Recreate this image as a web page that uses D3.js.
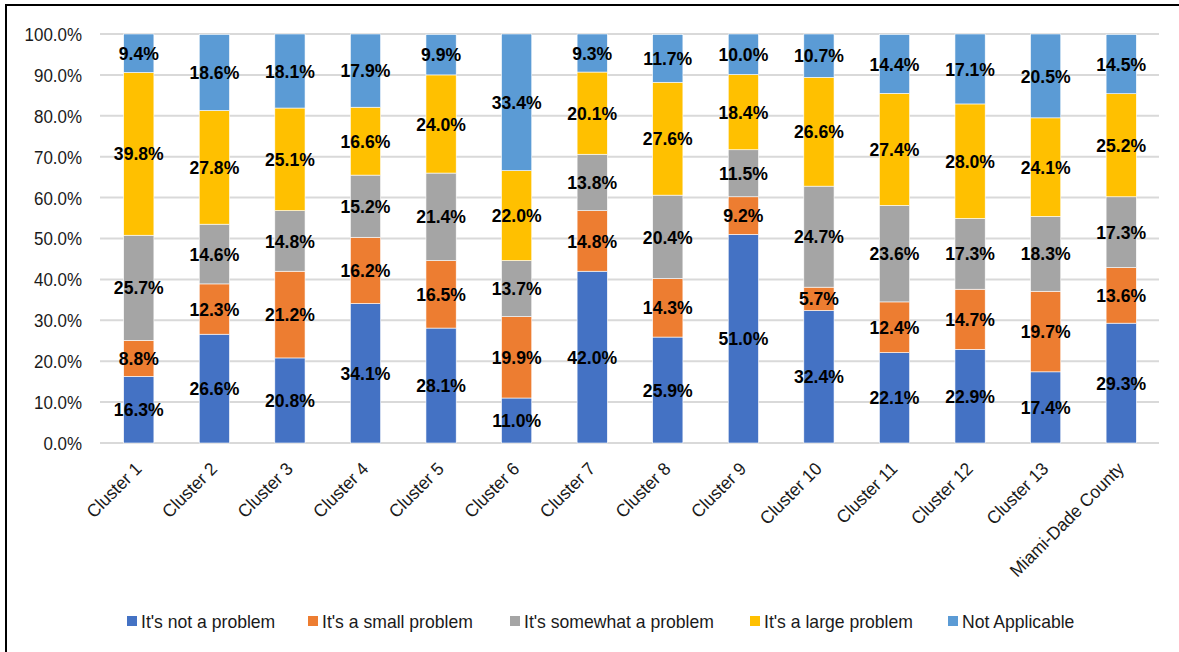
<!DOCTYPE html>
<html>
<head>
<meta charset="utf-8">
<script src="https://cdn.jsdelivr.net/npm/d3@7"></script>
<style>
  body { margin: 0; background: #fff; }
  svg { display: block; font-family: "Liberation Sans", Arial, sans-serif; }
</style>
</head>
<body>
<div id="chart"></div>
<script>
const categories = ["Cluster 1", "Cluster 2", "Cluster 3", "Cluster 4", "Cluster 5", "Cluster 6", "Cluster 7",
    "Cluster 8", "Cluster 9", "Cluster 10", "Cluster 11", "Cluster 12", "Cluster 13", "Miami-Dade County"];
const seriesNames = ["It's not a problem", "It's a small problem", "It's somewhat a problem", "It's a large problem", "Not Applicable"];
const notProblem   = [16.3, 26.6, 20.8, 34.1, 28.1, 11.0, 42.0, 25.9, 51.0, 32.4, 22.1, 22.9, 17.4, 29.3];
const smallProblem = [8.8, 12.3, 21.2, 16.2, 16.5, 19.9, 14.8, 14.3, 9.2, 5.7, 12.4, 14.7, 19.7, 13.6];
const somewhat     = [25.7, 14.6, 14.8, 15.2, 21.4, 13.7, 13.8, 20.4, 11.5, 24.7, 23.6, 17.3, 18.3, 17.3];
const largeProblem = [39.8, 27.8, 25.1, 16.6, 24.0, 22.0, 20.1, 27.6, 18.4, 26.6, 27.4, 28.0, 24.1, 25.2];
const notApplicable = [9.4, 18.6, 18.1, 17.9, 9.9, 33.4, 9.3, 11.7, 10.0, 10.7, 14.4, 17.1, 20.5, 14.5];
const yTicks = [0, 10, 20, 30, 40, 50, 60, 70, 80, 90, 100];
const colors = ["#4472C4", "#ED7D31", "#A5A5A5", "#FFC000", "#5B9BD5"];

const seriesValues = [notProblem, smallProblem, somewhat, largeProblem, notApplicable];
const rows = categories.map((c, i) => {
    const row = {category: c};
    seriesNames.forEach((s, j) => { row[s] = seriesValues[j][i]; });
    return row;
});

const W = 1179, H = 652;
const plot = {left: 101, right: 1159, top: 34, bottom: 443};

const svg = d3.select("#chart").append("svg")
    .attr("width", W)
    .attr("height", H);

// outer frame
svg.append("rect")
    .attr("x", 6).attr("y", 5)
    .attr("width", W + 20).attr("height", H + 20)
    .attr("fill", "none")
    .attr("stroke", "#000")
    .attr("stroke-width", 2);

const x = d3.scaleBand()
    .domain(categories)
    .range([plot.left, plot.right])
    .paddingInner(0.6)
    .paddingOuter(0.3);
const y = d3.scaleLinear().domain([0, 100]).range([plot.bottom, plot.top]);

// the picture's text is a touch narrower than Liberation Sans
const squeeze = (sel, k) => {
    sel.each(function() {
        const w = this.getComputedTextLength();
        this.setAttribute("textLength", w * k);
        this.setAttribute("lengthAdjust", "spacingAndGlyphs");
    });
};

// grid lines
svg.append("g")
    .selectAll("line")
    .data(yTicks)
    .join("line")
    .attr("x1", plot.left - 1)
    .attr("x2", plot.right)
    .attr("y1", d => y(d))
    .attr("y2", d => y(d))
    .attr("stroke", "#D9D9D9")
    .attr("stroke-width", 2);

// y axis labels
const yAxis = svg.append("g")
    .attr("transform", "translate(" + plot.left + ",0)")
    .call(d3.axisLeft(y).tickValues(yTicks).tickSize(0).tickPadding(19)
        .tickFormat(d => d.toFixed(1) + "%"));
yAxis.select(".domain").remove();
yAxis.selectAll("text")
    .attr("font-size", 18)
    .attr("font-family", "Liberation Sans, Arial, sans-serif")
    .attr("fill", "#1a1a1a")
    .attr("dy", "0.36em")
    .call(squeeze, 0.94);

// stacked bars
const stack = d3.stack().keys(seriesNames);
const stacked = stack(rows);

const layers = svg.append("g")
    .selectAll("g")
    .data(stacked)
    .join("g")
    .attr("fill", (d, i) => colors[i]);

layers.selectAll("rect")
    .data(d => d)
    .join("rect")
    .attr("x", d => x(d.data.category))
    .attr("width", x.bandwidth())
    .attr("y", d => y(Math.min(d[1], 100)))
    .attr("height", d => y(d[0]) - y(Math.min(d[1], 100)))
    .attr("stroke", "#fff")
    .attr("stroke-width", 0.6);

// data labels
const labels = svg.append("g");
stacked.forEach(layer => {
    labels.selectAll(null)
        .data(layer)
        .join("text")
        .attr("x", d => x(d.data.category) + x.bandwidth() / 2)
        .attr("y", d => y((d[0] + Math.min(d[1], 100)) / 2))
        .attr("dy", "0.36em")
        .attr("text-anchor", "middle")
        .attr("font-size", 18.5)
        .attr("font-weight", "bold")
        .attr("fill", "#000")
        .text(d => (d[1] - d[0]).toFixed(1) + "%")
        .call(squeeze, 0.95);
});

// x axis labels
svg.append("g")
    .selectAll("text")
    .data(categories)
    .join("text")
    .attr("transform", d => "translate(" + (x(d) + x.bandwidth() / 2 + 4) + "," + (plot.bottom + 27) + ") rotate(-45)")
    .attr("text-anchor", "end")
    .attr("font-size", 18)
    .attr("fill", "#1a1a1a")
    .text(d => d)
    .call(squeeze, 0.96);

// legend
const legendX = [127, 308, 510, 750, 948];
const legend = svg.append("g")
    .selectAll("g")
    .data(seriesNames)
    .join("g")
    .attr("transform", (d, i) => "translate(" + legendX[i] + ",616)");
legend.append("rect")
    .attr("width", 10)
    .attr("height", 10)
    .attr("fill", (d, i) => colors[i]);
legend.append("text")
    .attr("x", 14)
    .attr("y", 5)
    .attr("dy", "0.36em")
    .attr("font-size", 18.5)
    .attr("fill", "#1a1a1a")
    .text(d => d)
    .call(squeeze, 0.95);
</script>
</body>
</html>
